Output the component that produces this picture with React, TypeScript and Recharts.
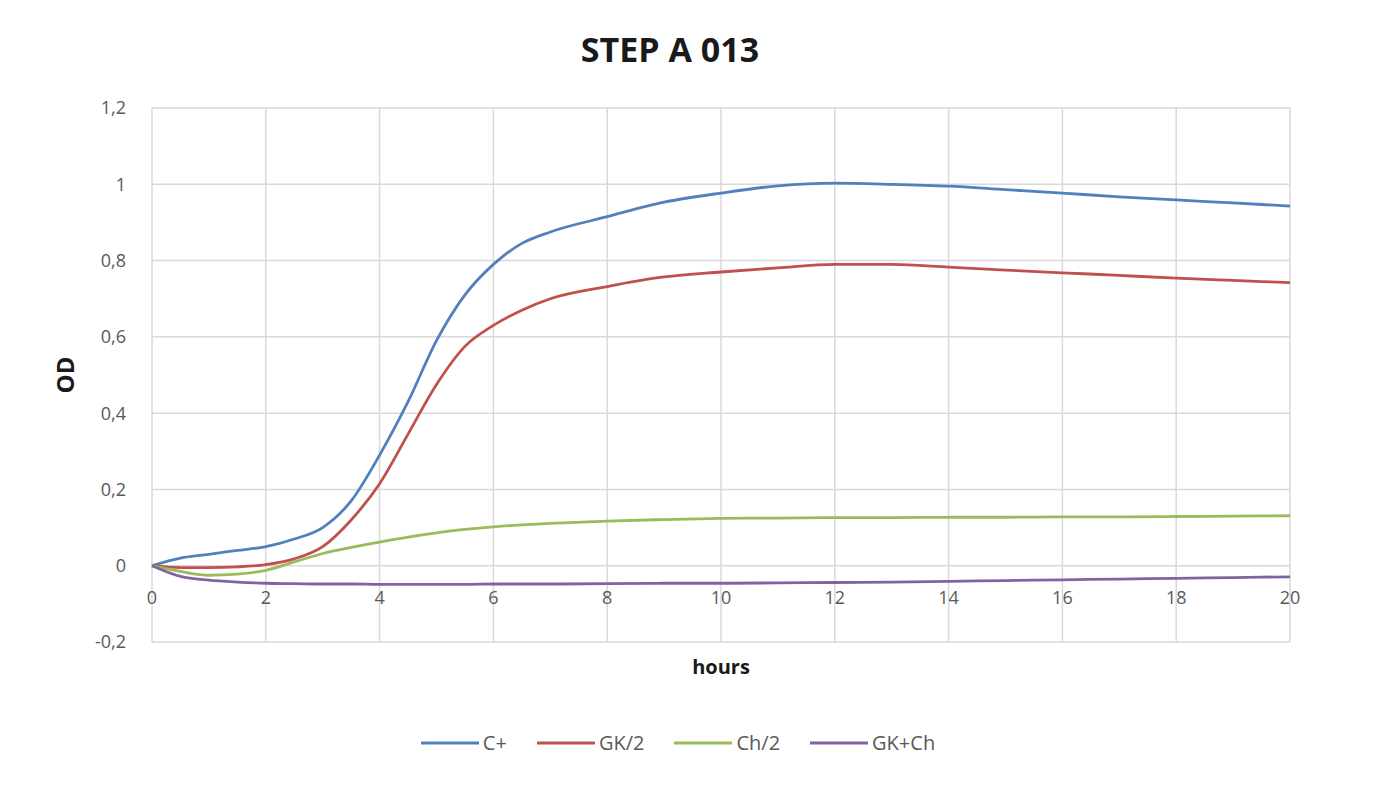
import React from 'react';
import { LineChart, Line, XAxis, YAxis, CartesianGrid, Label } from 'recharts';

const hours = [0, 0.5, 1, 1.5, 2, 2.5, 3, 3.5, 4, 4.5, 5, 5.5, 6, 6.5, 7, 8, 9, 10, 11, 12, 13, 14, 15, 16, 17, 18, 19, 20];
const cPlus = [0, 0.02, 0.03, 0.04, 0.05, 0.07, 0.1, 0.17, 0.29, 0.43, 0.59, 0.71, 0.79, 0.845, 0.875, 0.915, 0.953, 0.977, 0.996, 1.003, 1.0, 0.995, 0.986, 0.977, 0.967, 0.959, 0.951, 0.943];
const gkHalf = [0, -0.005, -0.005, -0.003, 0.003, 0.018, 0.05, 0.12, 0.215, 0.345, 0.475, 0.575, 0.63, 0.67, 0.7, 0.732, 0.757, 0.77, 0.781, 0.79, 0.79, 0.783, 0.775, 0.768, 0.761, 0.754, 0.748, 0.742];
const chHalf = [0, -0.015, -0.025, -0.022, -0.012, 0.01, 0.032, 0.048, 0.062, 0.075, 0.086, 0.095, 0.102, 0.107, 0.111, 0.117, 0.121, 0.124, 0.125, 0.126, 0.126, 0.127, 0.127, 0.128, 0.128, 0.129, 0.13, 0.131];
const gkCh = [0, -0.028, -0.038, -0.043, -0.046, -0.047, -0.048, -0.048, -0.049, -0.049, -0.049, -0.049, -0.048, -0.048, -0.048, -0.047, -0.046, -0.046, -0.045, -0.044, -0.043, -0.041, -0.039, -0.037, -0.035, -0.033, -0.031, -0.029];

const xTicks = [0, 2, 4, 6, 8, 10, 12, 14, 16, 18, 20];
const yTicks = [-0.2, 0, 0.2, 0.4, 0.6, 0.8, 1, 1.2];

const series = [
  { key: 'cPlus', name: 'C+', color: '#4f81bd' },
  { key: 'gkHalf', name: 'GK/2', color: '#c0504d' },
  { key: 'chHalf', name: 'Ch/2', color: '#9bbb59' },
  { key: 'gkCh', name: 'GK+Ch', color: '#8064a2' },
];

const data = hours.map((h, i) => ({
  h,
  cPlus: cPlus[i],
  gkHalf: gkHalf[i],
  chHalf: chHalf[i],
  gkCh: gkCh[i],
}));

const FONT = '"Open Sans", "Noto Sans", sans-serif';
const fmt = (v: number) => String(Number(v.toFixed(1))).replace('.', ',');

// x labels sit just under the zero line, like Excel's axis crossing at 0
const XTick = (props: any) => {
  const { x, y, payload } = props;
  return (
    <text x={x} y={y - 45} textAnchor="middle" dominantBaseline="central" fill="#595959" fontSize={18} fontFamily={FONT}>
      {payload.value}
    </text>
  );
};

export default function App() {
  return (
    <div style={{ position: 'absolute', top: 0, left: 0, width: 1395, height: 800, background: '#fff' }}>
      <div style={{ position: 'absolute', top: 26, left: 0, width: 1340, textAlign: 'center', fontFamily: FONT, fontWeight: 700, fontSize: 34, color: '#1a1a1a' }}>
        STEP A 013
      </div>
      <LineChart width={1395} height={800} data={data} margin={{ top: 108, right: 105, bottom: 128, left: 92 }}>
        <CartesianGrid stroke="#d9d9d9" strokeWidth={1.5} />
        <XAxis
          dataKey="h"
          type="number"
          domain={[0, 20]}
          ticks={xTicks}
          axisLine={false}
          tickLine={false}
          tickSize={0}
          tickMargin={0}
          height={30}
          tick={<XTick />}
        >
          <Label value="hours" position="bottom" offset={-12} style={{ fontFamily: FONT, fontWeight: 700, fontSize: 20, fill: '#1a1a1a' }} />
        </XAxis>
        <YAxis
          type="number"
          domain={[-0.2, 1.2]}
          ticks={yTicks}
          axisLine={false}
          tickLine={false}
          width={60}
          tickMargin={20}
          tickFormatter={fmt}
          tick={{ fill: '#595959', fontSize: 18, fontFamily: FONT }}
        >
          <Label value="OD" angle={-90} position="insideLeft" offset={-27} style={{ fontFamily: FONT, fontWeight: 700, fontSize: 24, fill: '#1a1a1a', textAnchor: 'middle' }} />
        </YAxis>
        {series.map((s) => (
          <Line
            key={s.key}
            dataKey={s.key}
            name={s.name}
            type="monotone"
            stroke={s.color}
            strokeWidth={2.8}
            dot={false}
            isAnimationActive={false}
          />
        ))}
      </LineChart>
      <div style={{ position: 'absolute', top: 729, left: 0, width: 1356, display: 'flex', justifyContent: 'center', gap: 30, fontFamily: FONT, fontSize: 20, color: '#595959' }}>
        {series.map((s) => (
          <div key={s.key} style={{ display: 'flex', alignItems: 'center' }}>
            <svg width={58} height={10} style={{ marginRight: 4 }}>
              <line x1={0} y1={5} x2={58} y2={5} stroke={s.color} strokeWidth={2.8} />
            </svg>
            <span>{s.name}</span>
          </div>
        ))}
      </div>
    </div>
  );
}
